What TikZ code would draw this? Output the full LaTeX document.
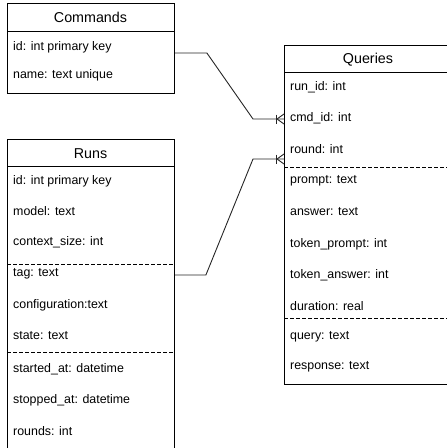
\documentclass[tikz,border=0pt]{standalone}
\usepackage{fontspec}
\setmainfont{Liberation Sans}
\usetikzlibrary{calc}
\begin{document}
\begin{tikzpicture}[x=1pt,y=-1pt,
  box/.style={draw=black,line width=0.9pt,rectangle,anchor=north west,inner sep=0pt},
  sep/.style={draw=black,line width=0.9pt},
  dsep/.style={draw=black,line width=0.8pt,dash pattern=on 3.5pt off 2.5pt},
  hdr/.style={font=\fontsize{14.3}{16}\selectfont,inner sep=0pt},
  row/.style={font=\fontsize{12.4}{14}\selectfont,anchor=west,inner sep=0pt},
  conn/.style={draw=black!85,line width=0.9pt},
  foot/.style={draw=black!85,line width=0.9pt}]
\useasboundingbox (0,0) rectangle (447,448);
% Commands
\node[box,minimum width=167pt,minimum height=90pt] (commands) at (7,3) {};
\draw[sep] (7,31) -- (174,31);
\node[hdr] (cmdh) at (90.5,17) {Commands};
\node[row] (c1) at (13,47) {id: int primary key};
\node[row] (c2) at (13,75) {name: text unique};
% Runs
\node[box,minimum width=167pt,minimum height=320pt] (runs) at (7,139) {};
\draw[sep] (7,166) -- (174,166);
\node[hdr] (runh) at (90.5,154) {Runs};
\node[row] (r1) at (13,181) {id: int primary key};
\node[row] (r2) at (13,211) {model: text};
\node[row] (r3) at (13,242) {context\_size: int};
\draw[dsep] (7,264) -- (174,264);
\node[row] (r4) at (13,274) {tag: text};
\node[row] (r5) at (13,305) {configuration:text};
\node[row] (r6) at (13,336) {state: text};
\draw[dsep] (7,352) -- (174,352);
\node[row] (r7) at (13,369) {started\_at: datetime};
\node[row] (r8) at (13,400) {stopped\_at: datetime};
\node[row] (r9) at (13,431) {rounds: int};
% Queries
\node[box,minimum width=175pt,minimum height=339pt] (queries) at (284,45) {};
\draw[sep] (284,72) -- (459,72);
\node[hdr] (qh) at (368,60) {Queries};
\node[row] (q1) at (290,87) {run\_id: int};
\node[row] (q2) at (290,118) {cmd\_id: int};
\node[row] (q3) at (290,149) {round: int};
\draw[dsep] (284,167) -- (459,167);
\node[row] (q4) at (290,181) {prompt: text};
\node[row] (q5) at (290,212) {answer: text};
\node[row] (q6) at (290,244) {token\_prompt: int};
\node[row] (q7) at (290,275) {token\_answer: int};
\node[row] (q8) at (290,306) {duration: real};
\draw[dsep] (284,318) -- (459,318);
\node[row] (q9) at (290,337) {query: text};
\node[row] (q10) at (290,367) {response: text};
% connector endpoints on the box edges
\coordinate (cA) at ($(commands.north east)+(0,50)$);
\coordinate (qA) at ($(queries.north west)+(0,74)$);
\coordinate (rB) at ($(runs.north east)+(0,136)$);
\coordinate (qB) at ($(queries.north west)+(0,114)$);
\draw[conn] (cA) -- ++(32,0) -- (253,119) -- (qA);
\draw[conn] (rB) -- ++(31,0) -- (253,159) -- (qB);
% crow's feet with bar
\foreach \e in {qA,qB}{
  \draw[foot] ($(\e)+(-8,-4.5)$) -- ($(\e)+(-8,4.5)$);
  \draw[foot] ($(\e)+(0,-5)$) -- ($(\e)+(-7,0)$) -- ($(\e)+(0,5)$);
}
\end{tikzpicture}
\end{document}
